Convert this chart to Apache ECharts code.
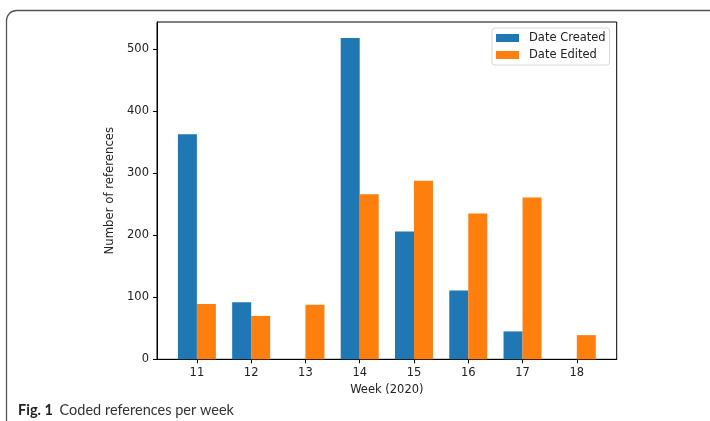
<!DOCTYPE html>
<html>
<head>
<meta charset="utf-8">
<script src="https://cdn.jsdelivr.net/npm/echarts@6/dist/echarts.min.js"></script>
<style>
  html, body { margin: 0; padding: 0; background: #fff; }
  #chart { width: 710px; height: 421px; }
</style>
</head>
<body>
<div id="chart"></div>
<script>
// Weekly counts of coded references
const weeks = [11, 12, 13, 14, 15, 16, 17, 18];
const dateCreated = [363, 92, 0, 518, 206, 111, 45, 0];
const dateEdited = [89, 70, 88, 266, 288, 235, 261, 39];
const yTicks = [0, 100, 200, 300, 400, 500];

const barWidthUnits = 0.35;
const span = weeks[weeks.length - 1] - weeks[0] + 2 * barWidthUnits;
const xMin = weeks[0] - barWidthUnits - 0.05 * span;
const xMax = weeks[weeks.length - 1] + barWidthUnits + 0.05 * span;
const yMax = Math.max(...dateCreated, ...dateEdited) * 1.05;

const chart = echarts.init(document.getElementById('chart'), null, { renderer: 'canvas' });
const font = 'DejaVu Sans';
const gridLeft = 157, gridTop = 22, gridRight = 93.3, gridBottom = 61.7;
const plotW = 710 - gridLeft - gridRight;
const pxPerUnit = plotW / (xMax - xMin);
const barPx = barWidthUnits * pxPerUnit;

chart.setOption({
  animation: false,
  backgroundColor: '#fff',
  textStyle: { fontFamily: font },
  grid: {
    left: gridLeft, top: gridTop, right: gridRight, bottom: gridBottom,
    show: true, borderColor: '#000', borderWidth: 1, backgroundColor: 'transparent'
  },
  legend: {
    orient: 'vertical',
    left: 492, top: 28,
    itemWidth: 23, itemHeight: 8, itemGap: 5,
    icon: 'rect',
    padding: [4, 4, 4, 4],
    borderColor: '#d8d8d8', borderWidth: 1, borderRadius: 3,
    backgroundColor: 'rgba(255,255,255,0.8)',
    textStyle: { fontFamily: font, fontSize: 11.5, color: '#222', padding: [0, 0, 0, 5] },
    data: ['Date Created', 'Date Edited']
  },
  xAxis: {
    type: 'value',
    min: xMin, max: xMax,
    name: 'Week (2020)', nameLocation: 'middle', nameGap: 25,
    nameTextStyle: { fontFamily: font, fontSize: 11.5, color: '#222' },
    axisLine: { show: true, lineStyle: { color: '#000', width: 1 } },
    axisTick: { show: true, inside: false, length: 4, customValues: weeks, lineStyle: { color: '#000' } },
    axisLabel: { customValues: weeks, margin: 8, fontFamily: font, fontSize: 11.5, color: '#222' },
    splitLine: { show: false }
  },
  yAxis: {
    type: 'value',
    min: 0, max: yMax,
    name: 'Number of references', nameLocation: 'middle', nameGap: 38,
    nameTextStyle: { fontFamily: font, fontSize: 11.7, color: '#222' },
    axisLine: { show: true, lineStyle: { color: '#000', width: 1 } },
    axisTick: { show: true, inside: false, length: 4, customValues: yTicks, lineStyle: { color: '#000' } },
    axisLabel: { customValues: yTicks, margin: 8, fontFamily: font, fontSize: 11.5, color: '#222' },
    splitLine: { show: false }
  },
  series: [
    {
      name: 'Date Created', type: 'bar',
      data: weeks.map((w, i) => [w, dateCreated[i]]),
      barWidth: barPx, barGap: '0%',
      itemStyle: { color: '#1f77b4' }
    },
    {
      name: 'Date Edited', type: 'bar',
      data: weeks.map((w, i) => [w, dateEdited[i]]),
      barWidth: barPx, barGap: '0%',
      itemStyle: { color: '#ff7f0e' }
    }
  ],
  graphic: [
    {
      type: 'rect', silent: true,
      shape: { x: 6.5, y: 10.5, width: 900, height: 600, r: 10 },
      style: { fill: 'none', stroke: '#555', lineWidth: 1.3 }
    },
    {
      type: 'text', silent: true,
      style: {
        x: 18, y: 410, verticalAlign: 'middle',
        text: '{b|Fig. 1}  {r|Coded references per week}',
        rich: {
          b: { fontFamily: 'Lato', fontWeight: 'bold', fontSize: 14.5, fill: '#222' },
          r: { fontFamily: 'Lato', fontSize: 14.5, fill: '#333' }
        }
      }
    }
  ]
});
</script>
</body>
</html>
